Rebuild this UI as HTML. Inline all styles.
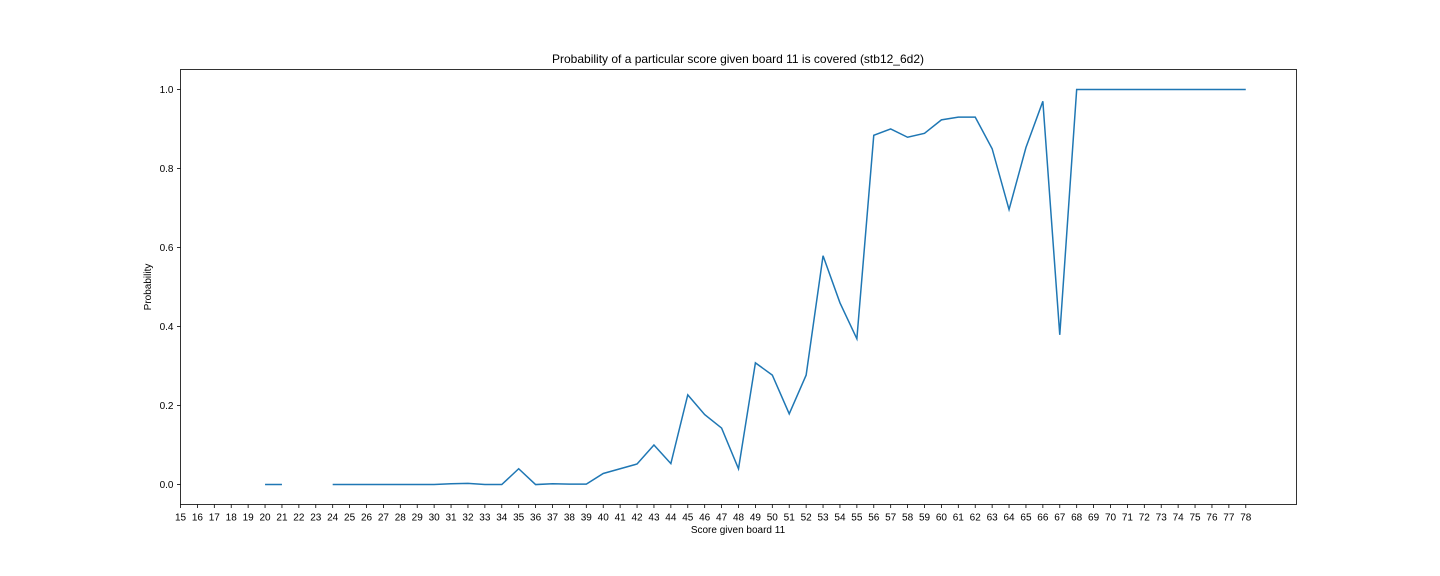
<!DOCTYPE html>
<html><head><meta charset="utf-8">
<style>
html,body{margin:0;padding:0;background:#fff;}
svg{display:block;font-family:"Liberation Sans","DejaVu Sans",sans-serif;}
</style></head>
<body>
<svg id="chart" width="1440" height="576" viewBox="0 0 1440 576">
<text x="738" y="63" text-anchor="middle" font-size="12">Probability of a particular score given board 11 is covered (stb12_6d2)</text>
<text x="738" y="533" text-anchor="middle" font-size="10">Score given board 11</text>
<text transform="translate(151,287) rotate(-90)" text-anchor="middle" font-size="10">Probability</text>
<g id="ticks"></g>
<path id="line" fill="none" stroke="#1f77b4" stroke-width="1.5"></path>
<rect x="180.5" y="69.5" width="1116" height="435" fill="none" stroke="#000" stroke-width="0.8"></rect>
</svg>
<script>
const scores = [];
for (let s = 15; s <= 78; s++) scores.push(s);
const probabilities = [null,null,null,null,null,0,0,null,null,0,0,0,0,0,0,0,0.002,0.003,0,0,0.04,0,0.002,0.001,0.001,0.028,0.04,0.052,0.1,0.053,0.227,0.177,0.143,0.04,0.308,0.277,0.179,0.277,0.579,0.46,0.369,0.884,0.9,0.879,0.889,0.923,0.93,0.93,0.85,0.696,0.853,0.97,0.379,1,1,1,1,1,1,1,1,1,1,1];
const yTicks = [0.0,0.2,0.4,0.6,0.8,1.0];

const L=180.5,R=1296.5,T=69.5,B=504.5;
const xMin=15,xMax=81;
const yMin=-0.0505,yMax=1.0505;
const xs=v=>L+(v-xMin)/(xMax-xMin)*(R-L);
const ys=v=>B-(v-yMin)/(yMax-yMin)*(B-T);
const NS="http://www.w3.org/2000/svg";
const g=document.getElementById('ticks');
function mk(tag,attrs){const e=document.createElementNS(NS,tag);for(const k in attrs)e.setAttribute(k,attrs[k]);g.appendChild(e);return e;}
scores.forEach(s=>{
  const x=xs(s);
  const t=mk('line',{x1:x,x2:x,y1:B,y2:B+3.5,stroke:'#000','stroke-width':0.8});
  
  
  const l=mk('text',{x:x,y:B+16,'text-anchor':'middle','font-size':10});
  l.textContent=s;
  
  
});
yTicks.forEach(v=>{
  const y=ys(v);
  const t=mk('line',{x1:L-3.5,x2:L,y1:y,y2:y,stroke:'#000','stroke-width':0.8});
  
  
  const l=mk('text',{x:L-7,y:y+3.5,'text-anchor':'end','font-size':10});
  l.textContent=v.toFixed(1);
  
  
});
let d='',pen=false;
scores.forEach((s,i)=>{
  const v=probabilities[i];
  if(v===null){pen=false;return;}
  d+=(pen?'L':'M')+xs(s).toFixed(2)+','+ys(v).toFixed(2);
  pen=true;
});
document.getElementById('line').setAttribute('d',d);
</script>
</body></html>
